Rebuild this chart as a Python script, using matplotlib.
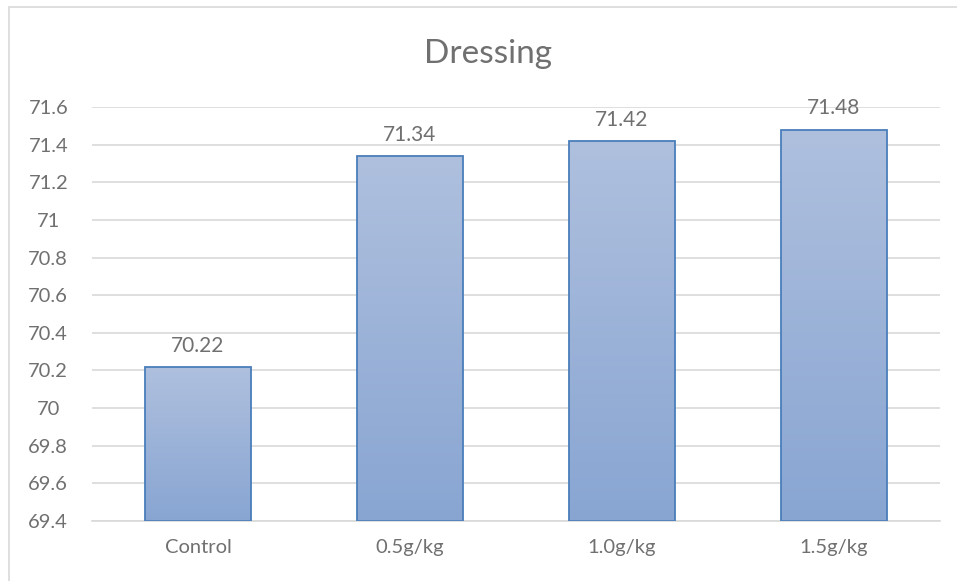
import numpy as np
import matplotlib.pyplot as plt
from matplotlib.patches import Rectangle
from matplotlib.colors import LinearSegmentedColormap

# Dressing percentage per treatment
categorias = ["Control", "0.5g/kg", "1.0g/kg", "1.5g/kg"]
valores = [70.22, 71.34, 71.42, 71.48]
ticks_y = [69.4, 69.6, 69.8, 70.0, 70.2, 70.4, 70.6, 70.8, 71.0, 71.2, 71.4, 71.6]

C_TEXT = "#707070"
C_GRID = "#d9d9d9"
C_EDGE = "#4a7ebb"
C_TOP = "#afc0de"
C_BOTTOM = "#88a5d2"

plt.rcParams["font.family"] = ["Lato", "DejaVu Sans"]

fig = plt.figure(figsize=(9.57, 5.81), dpi=100, facecolor="white")
ax = fig.add_axes([92 / 957, 1 - 521 / 581, (940 - 92) / 957, (521 - 107) / 581])

# marco del gráfico
fig.patches.append(Rectangle((9 / 957, -0.1), 1.2, 1 - 7 / 581 + 0.1,
                             transform=fig.transFigure, fill=False,
                             edgecolor=C_GRID, linewidth=1.2))

x = np.arange(len(categorias))
base = ticks_y[0]
bars = ax.bar(x, [v - base for v in valores], bottom=base, width=0.5,
              color="none", edgecolor=C_EDGE, linewidth=1.3, zorder=3)

# relleno degradado dentro de cada barra
grad = np.linspace(0, 1, 256).reshape(-1, 1)
cmap = LinearSegmentedColormap.from_list("bar", [C_BOTTOM, C_TOP])
for bar in bars:
    x0, y0 = bar.get_x(), bar.get_y()
    w, h = bar.get_width(), bar.get_height()
    im = ax.imshow(grad, extent=(x0, x0 + w, y0, y0 + h), origin="lower",
                   cmap=cmap, aspect="auto", zorder=2)
    im.set_clip_path(bar)

for xi, v in zip(x, valores):
    ax.annotate(f"{v:.2f}", (xi, v), xytext=(0, 8), textcoords="offset points",
                ha="center", va="bottom", color=C_TEXT, fontsize=15, zorder=4)

ax.set_xlim(-0.5, len(categorias) - 0.5)
ax.set_ylim(ticks_y[0], ticks_y[-1])
ax.set_yticks(ticks_y)
ax.set_yticklabels([f"{t:g}" for t in ticks_y])
ax.set_xticks(x)
ax.set_xticklabels(categorias)
ax.tick_params(length=0, colors=C_TEXT, labelsize=14.5)
ax.tick_params(axis="x", pad=13)
ax.tick_params(axis="y", pad=31.5)
for lbl in ax.get_yticklabels():
    lbl.set_horizontalalignment("center")

ax.grid(axis="y", color=C_GRID, linewidth=1.2, zorder=0)
ax.set_axisbelow(True)
for s in ["top", "right", "left"]:
    ax.spines[s].set_visible(False)
ax.spines["bottom"].set_color(C_GRID)
ax.spines["bottom"].set_linewidth(1.2)

fig.text(488 / 957, 1 - 63 / 581, "Dressing", ha="center", va="baseline",
         color=C_TEXT, fontsize=24)

fig.savefig("out.png", dpi=100, facecolor="white")
